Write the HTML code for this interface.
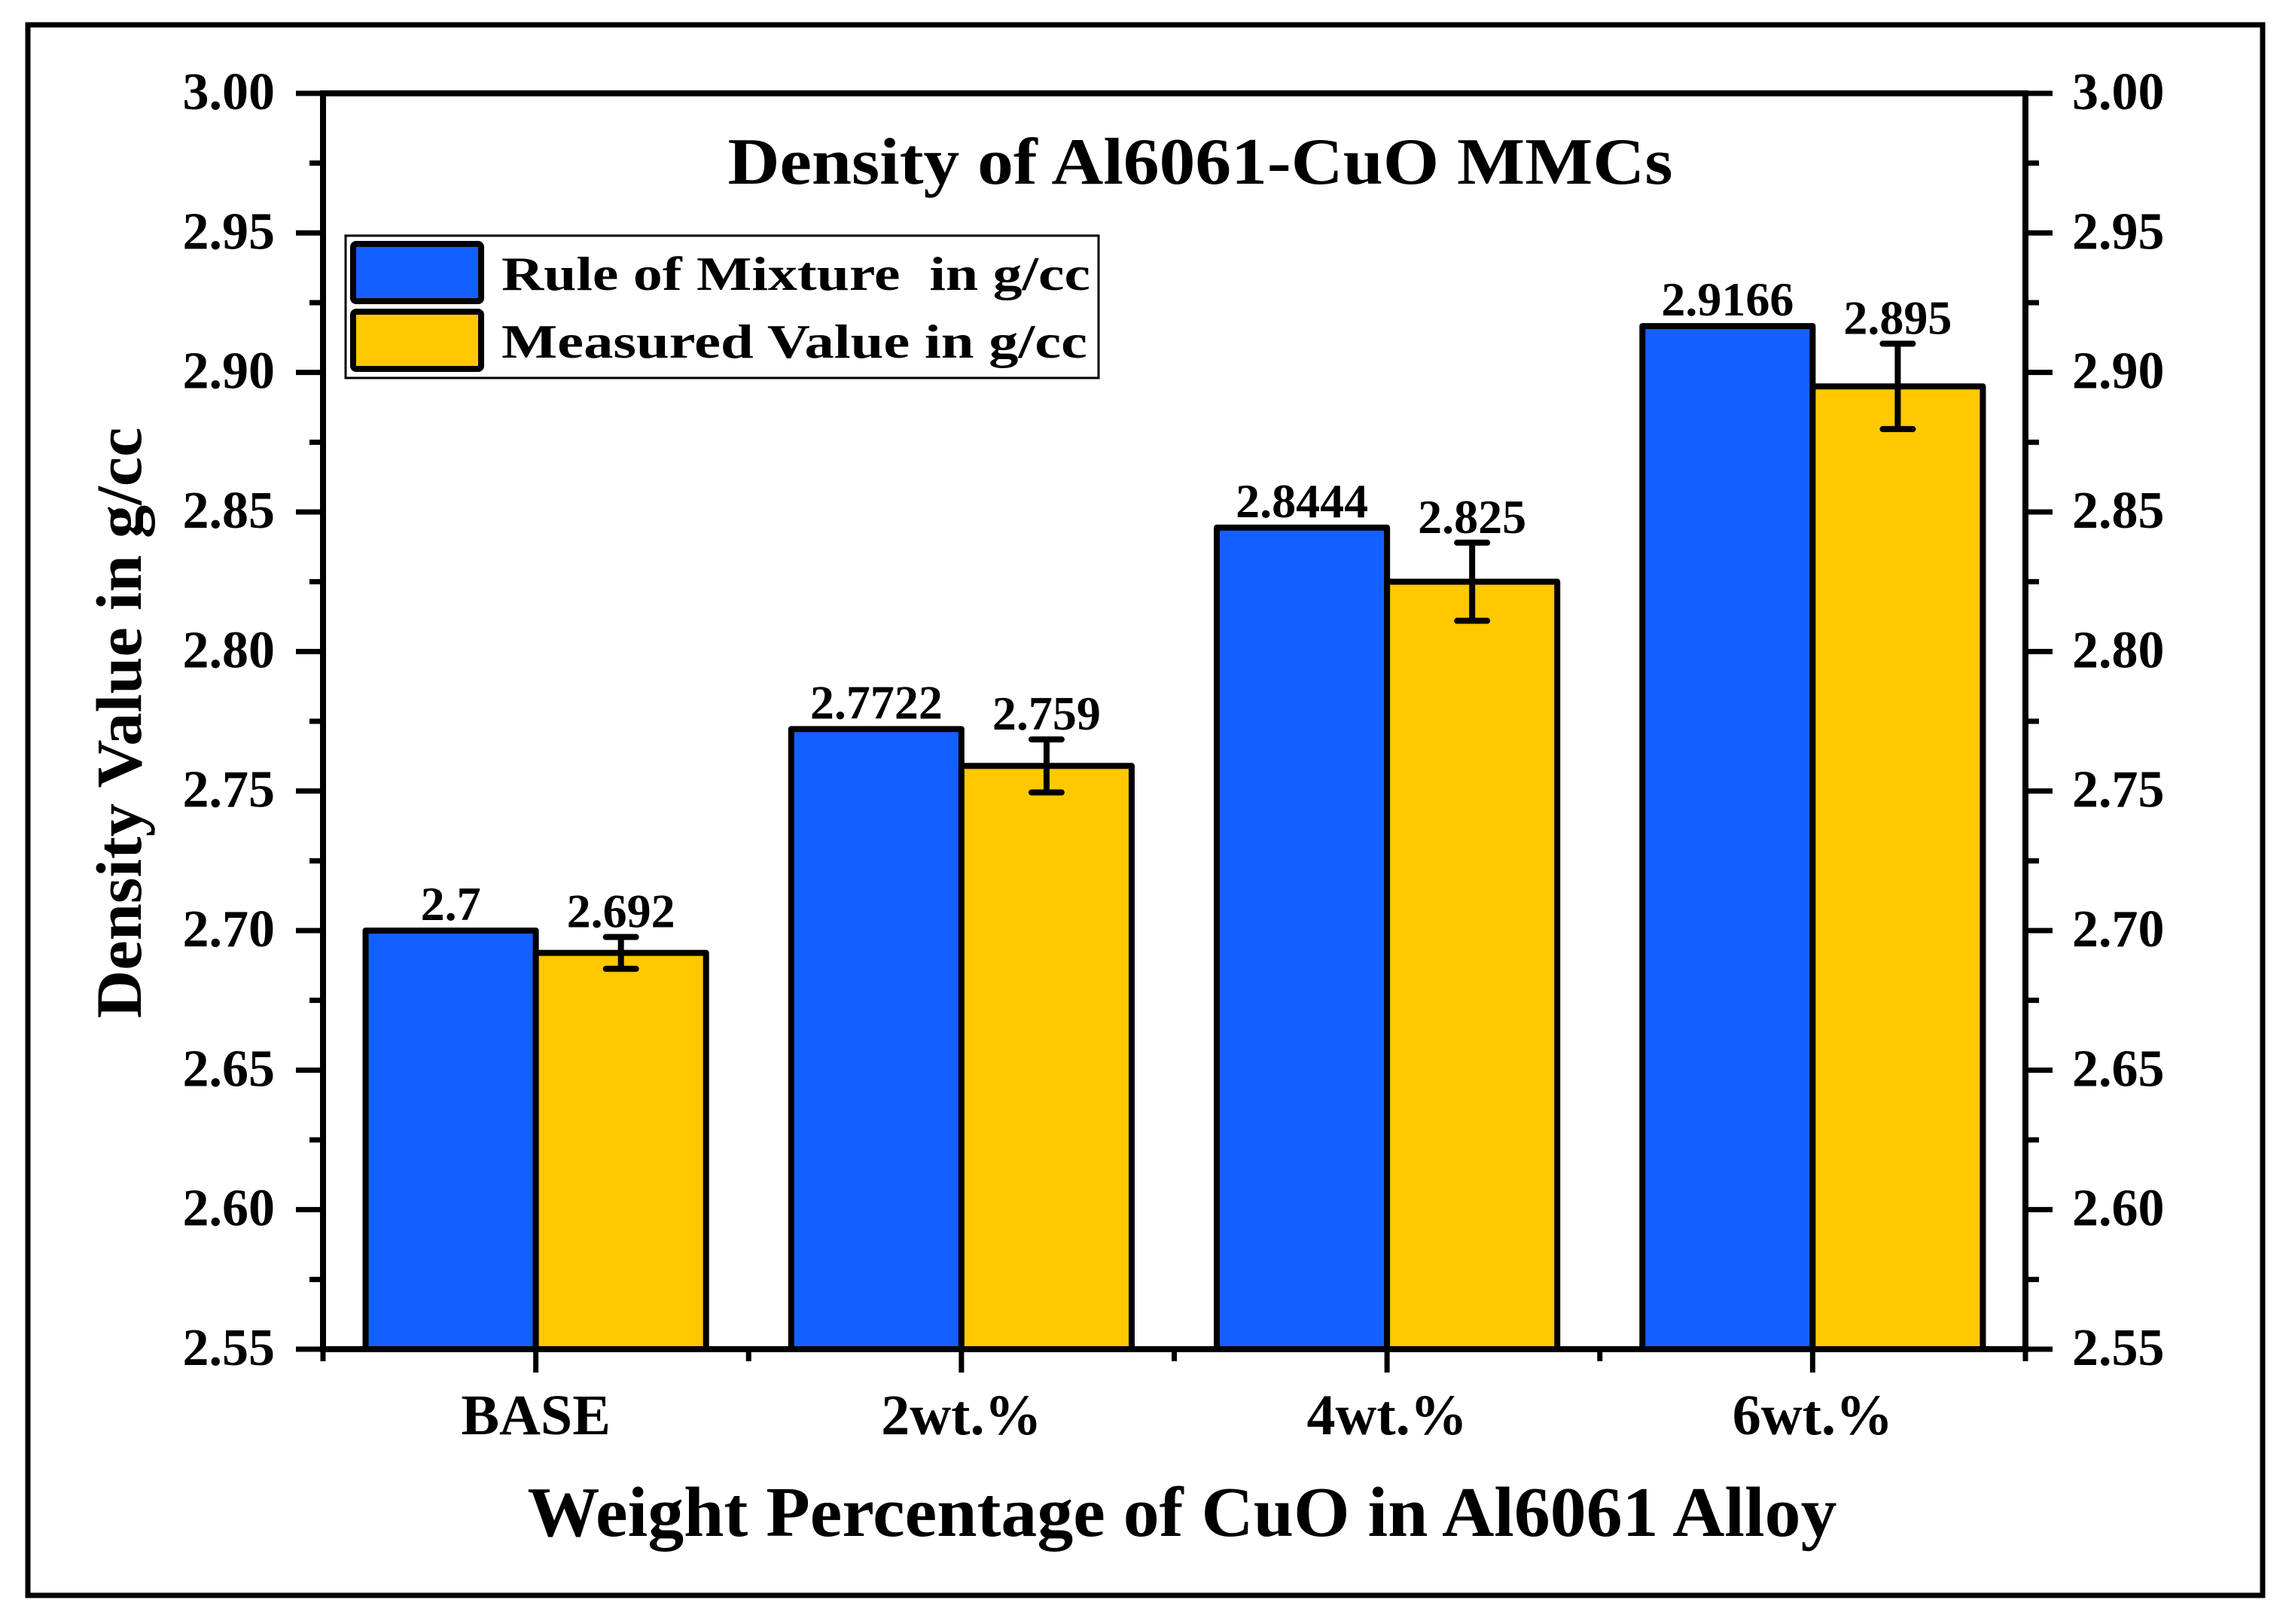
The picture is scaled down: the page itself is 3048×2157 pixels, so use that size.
<!DOCTYPE html>
<html><head><meta charset="utf-8"><style>
html,body{margin:0;padding:0;background:#fff;}
svg{display:block;font-family:"Liberation Serif",serif;font-weight:bold;}
</style></head><body>
<svg id="chart" width="3048" height="2157" viewBox="0 0 3048 2157" xmlns="http://www.w3.org/2000/svg">
<rect x="37" y="33" width="2968" height="2086" fill="none" stroke="#000" stroke-width="7"/>
<g id="plot"></g>
<text x="1594" y="244" font-size="88" text-anchor="middle" textLength="1255" lengthAdjust="spacingAndGlyphs">Density of Al6061-CuO MMCs</text>
<text x="1570" y="2040" font-size="94" text-anchor="middle" textLength="1739" lengthAdjust="spacingAndGlyphs">Weight Percentage of CuO in Al6061 Alloy</text>
<text transform="translate(187,960) rotate(-90)" x="0" y="0" font-size="86" text-anchor="middle" textLength="785" lengthAdjust="spacingAndGlyphs">Density Value in g/cc</text>
<g>
<rect x="459" y="313" width="1000" height="189" fill="#fff" stroke="#000" stroke-width="3"/>
<rect x="469" y="324" width="170" height="76" rx="4" fill="#1460FF" stroke="#000" stroke-width="8"/>
<rect x="469" y="414" width="170" height="76" rx="4" fill="#FFC800" stroke="#000" stroke-width="8"/>
<text x="666" y="385" font-size="64" textLength="782" lengthAdjust="spacingAndGlyphs" xml:space="preserve">Rule of Mixture  in g/cc</text>
<text x="666" y="475" font-size="64" textLength="778" lengthAdjust="spacingAndGlyphs">Measured Value in g/cc</text>
</g>
</svg>
<script>
const categories = ["BASE", "2wt.%", "4wt.%", "6wt.%"];
const ruleOfMixture = [2.7, 2.7722, 2.8444, 2.9166];
const measured = [2.692, 2.759, 2.825, 2.895];
const measuredErr = [0.0057, 0.0095, 0.014, 0.0153];
const ruleLabels = ["2.7", "2.7722", "2.8444", "2.9166"];
const measuredLabels = ["2.692", "2.759", "2.825", "2.895"];
const yTicks = [2.55, 2.60, 2.65, 2.70, 2.75, 2.80, 2.85, 2.90, 2.95, 3.00];
const yTickLabels = ["2.55", "2.60", "2.65", "2.70", "2.75", "2.80", "2.85", "2.90", "2.95", "3.00"];

const NS = "http://www.w3.org/2000/svg";
const L = 429, R = 2690, T = 124, B = 1792;
const yMin = 2.55, yMax = 3.00;
const y = v => B - (v - yMin) / (yMax - yMin) * (B - T);
const catW = (R - L) / categories.length;
const xc = i => L + catW * (i + 0.5);
const barW = catW * 0.4;
const plot = document.getElementById("plot");
function mk(tag, attrs) {
  const e = document.createElementNS(NS, tag);
  for (const k in attrs) e.setAttribute(k, attrs[k]);
  plot.appendChild(e);
  return e;
}

categories.forEach((c, i) => {
  const b1 = mk("rect", {x: xc(i) - barW, y: y(ruleOfMixture[i]), width: barW, height: B - y(ruleOfMixture[i]), fill: "#1460FF", stroke: "#000", "stroke-width": 8, "stroke-linejoin": "round"});
  
  
  const b2 = mk("rect", {x: xc(i), y: y(measured[i]), width: barW, height: B - y(measured[i]), fill: "#FFC800", stroke: "#000", "stroke-width": 8, "stroke-linejoin": "round"});
  
  
  const ex = xc(i) + barW / 2;
  const top = y(measured[i] + measuredErr[i]), bot = y(measured[i] - measuredErr[i]);
  const eb = mk("path", {d: `M${ex},${top}V${bot}M${ex-20},${top}H${ex+20}M${ex-20},${bot}H${ex+20}`, stroke: "#000", "stroke-width": 8, "stroke-linecap": "round", fill: "none"});
  
  
  const t1 = mk("text", {x: xc(i) - barW / 2, y: y(ruleOfMixture[i]) - 14, "font-size": 64, "text-anchor": "middle"});
  t1.textContent = ruleLabels[i];
  
  
  const t2 = mk("text", {x: ex, y: top - 13, "font-size": 64, "text-anchor": "middle"});
  t2.textContent = measuredLabels[i];
  
  
  const cl = mk("text", {x: xc(i), y: 1905, "font-size": 76, "text-anchor": "middle"});
  cl.textContent = c;
  
  
});

const fr = mk("rect", {x: L, y: T, width: R - L, height: B - T, fill: "none", stroke: "#000", "stroke-width": 8});



let d = "";
yTicks.forEach((v, i) => {
  const yy = y(v);
  d += `M${L-36},${yy}H${L}M${R},${yy}H${R+36}`;
  if (i < yTicks.length - 1) {
    const ym = y((v + yTicks[i+1]) / 2);
    d += `M${L-18},${ym}H${L}M${R},${ym}H${R+18}`;
  }
  const tl = mk("text", {x: 365, y: yy + 21, "font-size": 70, "text-anchor": "end"});
  tl.textContent = yTickLabels[i];
  
  
  const tr = mk("text", {x: 2752, y: yy + 21, "font-size": 70, "text-anchor": "start"});
  tr.textContent = yTickLabels[i];
  
  
});
for (let k = 0; k <= categories.length * 2; k++) {
  const xx = L + catW / 2 * k;
  d += `M${xx},${B}V${B + (k % 2 ? 31 : 16)}`;
}
const tk = mk("path", {d: d, stroke: "#000", "stroke-width": 7, fill: "none"});


</script>
</body></html>
